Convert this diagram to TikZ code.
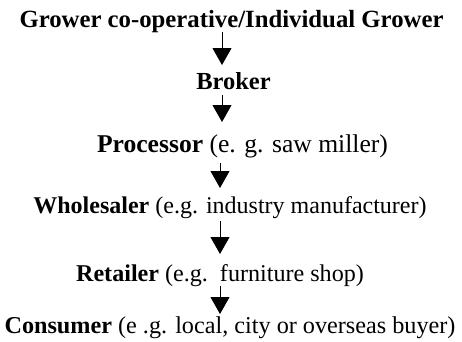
\documentclass[tikz,border=0pt]{standalone}
\usepackage{fontspec}
\setmainfont{Liberation Serif}
\usetikzlibrary{arrows.meta}
\begin{document}
\begin{tikzpicture}[x=1pt,y=1pt,
 lbl/.style={inner sep=0pt, anchor=base},
 arr/.style={line width=1pt, -{Triangle[length=17pt,width=19pt]}}]
\useasboundingbox (0,0) rectangle (462,341);
\node[lbl, font=\fontsize{24.75}{28}\selectfont] (grower) at (231.5,313) {\textbf{Grower co-operative/Individual Grower}};
\node[lbl, font=\fontsize{24.5}{28}\selectfont] (broker) at (233.5,252) {\textbf{Broker}};
\node[lbl, font=\fontsize{25.6}{29}\selectfont] (proc) at (242.5,189) {\textbf{Processor} (e. g. saw miller)};
\node[lbl, font=\fontsize{24}{28}\selectfont] (whole) at (230,128) {\textbf{Wholesaler} (e.g. industry manufacturer)};
\node[lbl, font=\fontsize{24.1}{28}\selectfont] (retail) at (220,60) {\textbf{Retailer} (e.g.\hspace{0.5em}furniture shop)};
\node[lbl, font=\fontsize{24.2}{28}\selectfont] (cons) at (230,8) {\textbf{Consumer} (e .g. local, city or overseas buyer)};
\coordinate (c1) at (222,0);
\coordinate (c2) at (220,0);
\draw[arr] ([yshift=-4pt]grower.base -| c1) -- ([yshift=24pt]broker.base -| c1);
\draw[arr] ([yshift=-6pt]broker.base -| c1) -- ([yshift=30pt]proc.base -| c1);
\draw[arr] ([yshift=-11pt]proc.base -| c2) -- ([yshift=25pt]whole.base -| c2);
\draw[arr] ([yshift=-8pt]whole.base -| c2) -- ([yshift=27pt]retail.base -| c2);
\draw[arr] ([yshift=-5pt]retail.base -| c2) -- ([yshift=19pt]cons.base -| c2);
\end{tikzpicture}
\end{document}
